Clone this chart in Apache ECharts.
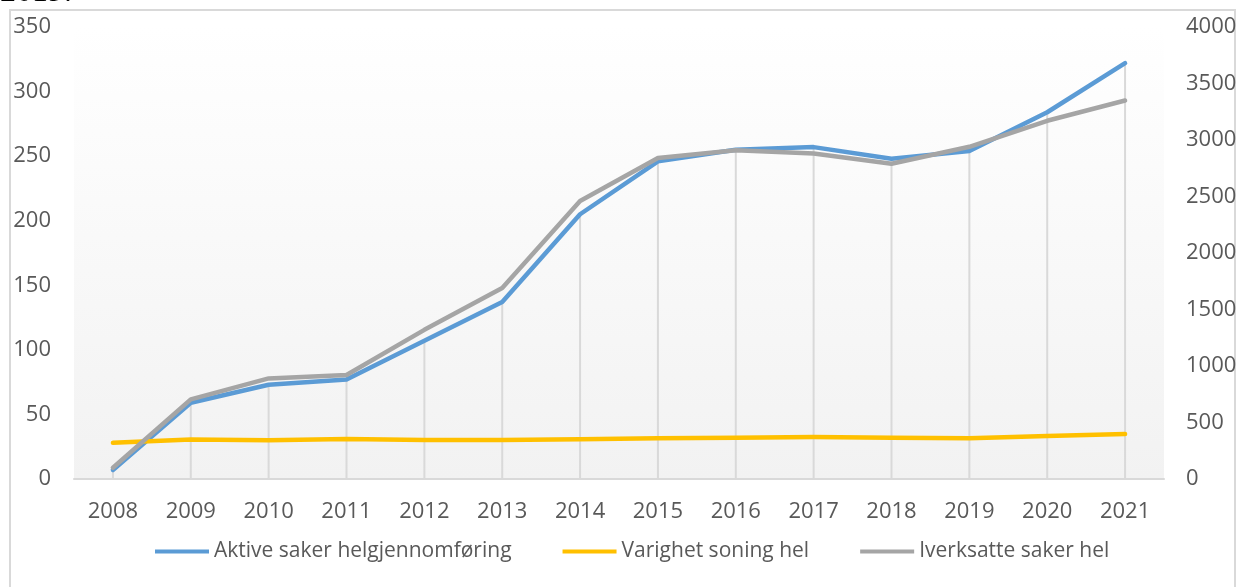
<!DOCTYPE html>
<html>
<head>
<meta charset="utf-8">
<script src="https://cdn.jsdelivr.net/npm/echarts@6/dist/echarts.min.js"></script>
<style>
  html, body { margin: 0; padding: 0; background: #fff; }
  #chart { width: 1240px; height: 587px; }
</style>
</head>
<body>
<div id="chart"></div>
<script>
// years on the x axis
var years = ['2008','2009','2010','2011','2012','2013','2014','2015','2016','2017','2018','2019','2020','2021'];
// left axis series
var aktiveSaker = [7, 59, 73, 77, 107, 137, 205, 246, 255, 257, 248, 254, 284, 322];
var varighetSoning = [28, 30.5, 30, 31, 30.2, 30.2, 30.7, 31.5, 32, 32.5, 32, 31.5, 33.3, 34.8];
// right axis series
var iverksatteSaker = [100, 705, 890, 920, 1320, 1690, 2460, 2840, 2910, 2880, 2790, 2940, 3170, 3350];

var names = ['Aktive saker helgjennomføring', 'Varighet soning hel', 'Iverksatte saker hel'];
var fontName = "'Open Sans', 'Liberation Sans', sans-serif";
var labelColor = '#595959';

var myChart = echarts.init(document.getElementById('chart'));
var option = {
    animation: false,
    backgroundColor: '#ffffff',
    textStyle: { fontFamily: fontName },
    graphic: [
        {
            type: 'rect',
            shape: { x: 10, y: 10, width: 1225, height: 620 },
            style: { fill: 'none', stroke: '#d9d9d9', lineWidth: 2 },
            silent: true
        },
        {
            // bit of the document text above the chart
            type: 'text',
            left: 0,
            top: -23,
            style: { text: '2019.', font: '32px "Liberation Serif", serif', fill: '#000' },
            silent: true
        }
    ],
    grid: {
        left: 74,
        right: 76,
        top: 27,
        bottom: 108,
        show: true,
        borderWidth: 0,
        backgroundColor: {
            type: 'linear', x: 0, y: 0, x2: 0, y2: 1,
            colorStops: [{ offset: 0, color: '#ffffff' }, { offset: 1, color: '#f2f2f2' }]
        }
    },
    legend: {
        data: names,
        left: 155,
        top: 541,
        padding: 0,
        icon: 'rect',
        itemWidth: 54,
        itemHeight: 4,
        itemGap: 51,
        textStyle: { color: labelColor, fontSize: 21, fontFamily: fontName }
    },
    xAxis: {
        type: 'category',
        data: years,
        boundaryGap: true,
        axisLine: { show: true, lineStyle: { color: '#d9d9d9', width: 2 } },
        axisTick: { show: false },
        axisLabel: { color: labelColor, fontSize: 22, margin: 22 },
        splitLine: { show: false }
    },
    yAxis: [
        {
            type: 'value',
            min: 0, max: 350, interval: 50,
            axisLine: { show: false },
            axisTick: { show: false },
            splitLine: { show: false },
            axisLabel: { color: labelColor, fontSize: 22, margin: 23 }
        },
        {
            type: 'value',
            min: 0, max: 4000, interval: 500,
            position: 'right',
            axisLine: { show: false },
            axisTick: { show: false },
            splitLine: { show: false },
            axisLabel: {
                color: labelColor, fontSize: 22, margin: 22,
                formatter: function (v) { return String(v); }
            }
        }
    ],
    series: [
        {
            // drop lines down from the primary group
            name: 'drop',
            type: 'bar',
            yAxisIndex: 0,
            data: aktiveSaker,
            barWidth: 2,
            itemStyle: { color: '#d9d9d9' },
            silent: true,
            z: 1
        },
        {
            name: names[0],
            type: 'line',
            yAxisIndex: 0,
            data: aktiveSaker,
            showSymbol: false,
            lineStyle: { color: '#5b9bd5', width: 4.5, cap: 'round', join: 'round' },
            itemStyle: { color: '#5b9bd5' },
            z: 3
        },
        {
            name: names[1],
            type: 'line',
            yAxisIndex: 0,
            data: varighetSoning,
            showSymbol: false,
            lineStyle: { color: '#ffc000', width: 4.5, cap: 'round', join: 'round' },
            itemStyle: { color: '#ffc000' },
            z: 3
        },
        {
            name: names[2],
            type: 'line',
            yAxisIndex: 1,
            data: iverksatteSaker,
            showSymbol: false,
            lineStyle: { color: '#a5a5a5', width: 4.5, cap: 'round', join: 'round' },
            itemStyle: { color: '#a5a5a5' },
            z: 4
        }
    ]
};
myChart.setOption(option);
</script>
</body>
</html>
